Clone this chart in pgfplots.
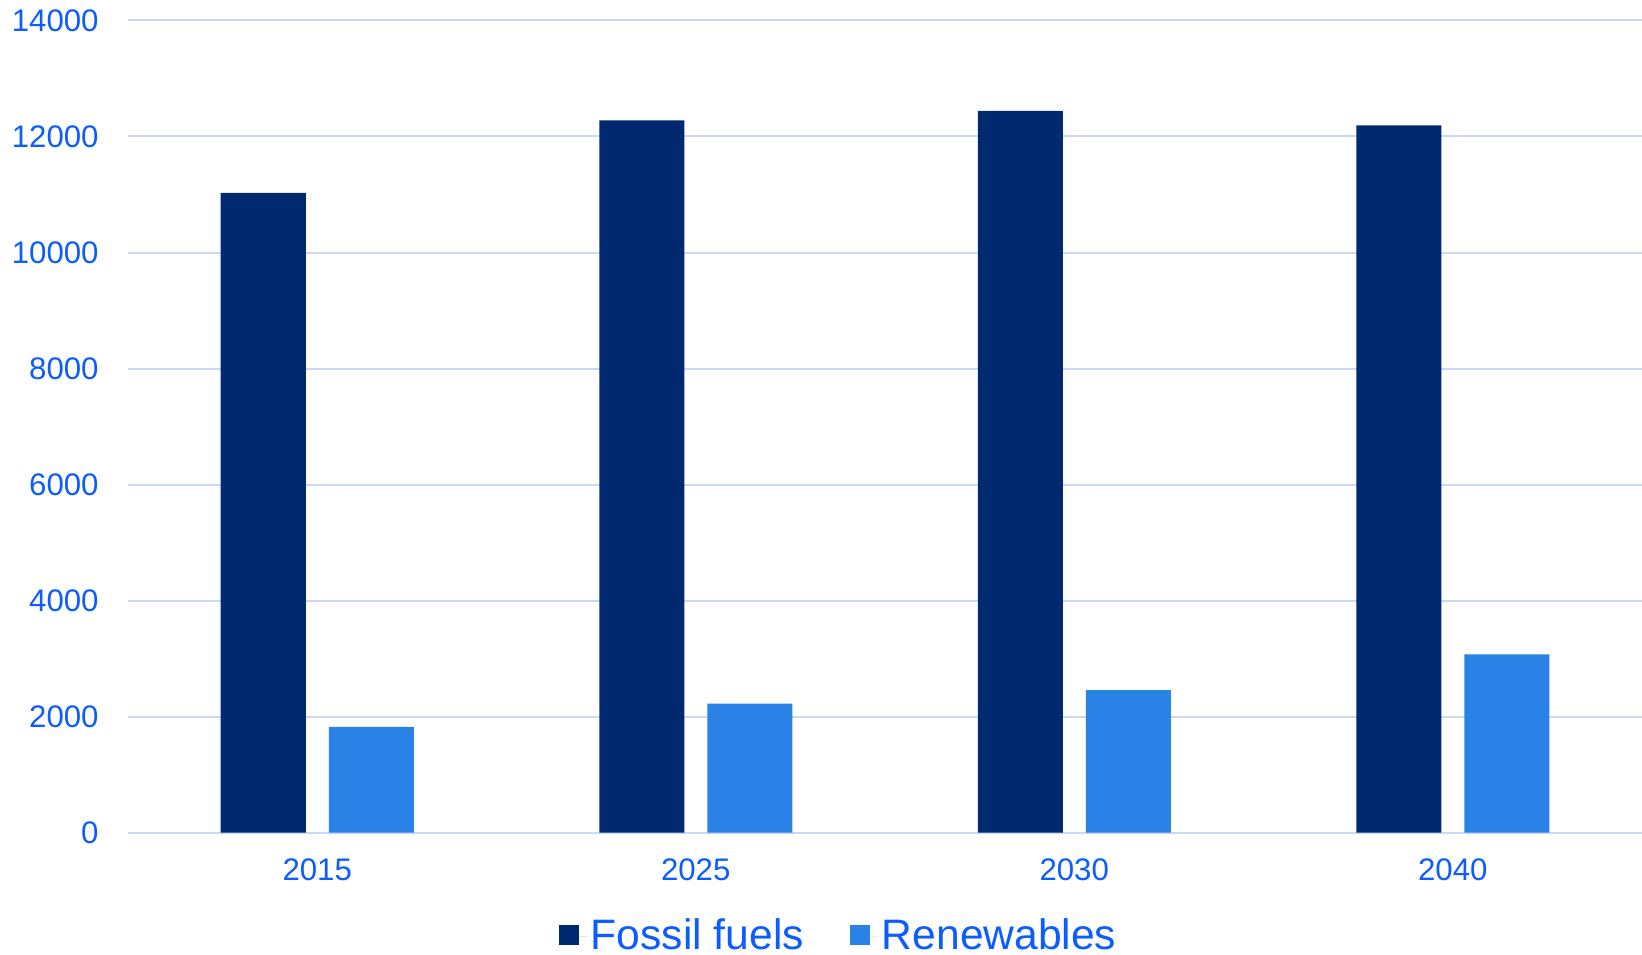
\documentclass[border=0pt]{standalone}
\usepackage{pgfplots}
\pgfplotsset{compat=1.18}
\usepackage{fontspec}
\setmainfont{Liberation Sans}
\definecolor{fossil}{RGB}{0,41,112}
\definecolor{renew}{RGB}{42,130,230}
\definecolor{txtblue}{RGB}{12,92,255}
\definecolor{gridc}{RGB}{200,216,246}
\begin{document}
\begin{tikzpicture}
\begin{axis}[
  scale only axis,
  width=757pt, height=406pt,
  ybar=11.5pt, bar width=42.5pt,
  xmin=-0.5, xmax=3.5, ymin=0, ymax=14000,
  enlargelimits=false,
  axis line style={draw=none},
  major tick length=0pt,
  xtick={0,1,2,3},
  xticklabels={2015,2025,2030,2040},
  ytick={0,2000,4000,6000,8000,10000,12000,14000},
  yticklabels={0,2000,4000,6000,8000,10000,12000,14000},
  ymajorgrids,
  grid style={draw=gridc, line width=1pt},
  tick label style={font=\fontsize{15.6}{18}\selectfont, text=txtblue, inner sep=0pt},
  yticklabel style={anchor=east, xshift=-14.5pt},
  xticklabel style={anchor=north, yshift=-13pt},
  legend style={at={(0.470,-0.1275)}, anchor=center, draw=none, fill=none,
    legend columns=2, font=\fontsize{21.3}{25}\selectfont, text=txtblue,
    /tikz/every even column/.append style={column sep=21pt}},
  legend image code/.code={\fill[#1] (0pt,-4.5pt) rectangle (10pt,5.5pt);
    \path (0pt,0pt) -- (14pt,0pt);},
  clip=false,
]
\addplot[fill=fossil, draw=none] coordinates {(0,11030) (1,12280) (2,12440) (3,12190)};
\addplot[fill=renew, draw=none] coordinates {(0,1820) (1,2220) (2,2455) (3,3070)};
\legend{Fossil fuels, Renewables}
\coordinate (bl) at (rel axis cs:0,0);
\coordinate (tr) at (rel axis cs:1,1);
\end{axis}
\pgfresetboundingbox
\path ([xshift=-64pt,yshift=-60.75pt]bl) rectangle ([yshift=10.25pt]tr);
\end{tikzpicture}
\end{document}
